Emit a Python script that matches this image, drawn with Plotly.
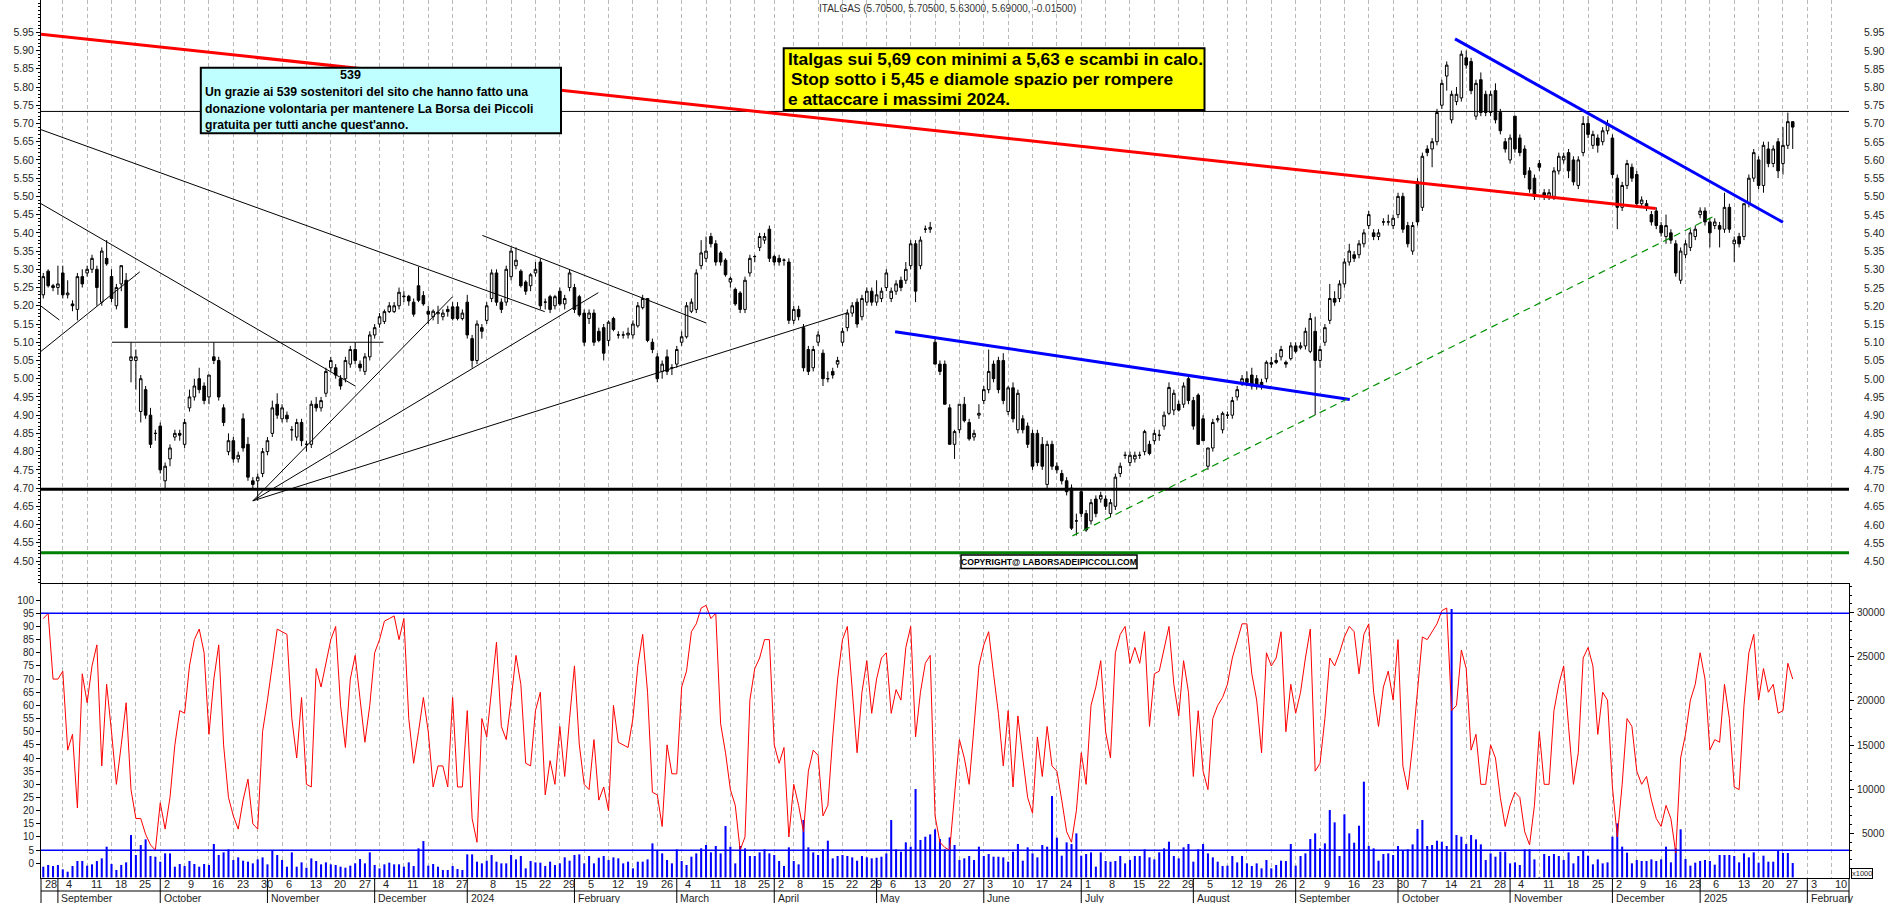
import numpy as np
import pandas as pd
import plotly.graph_objects as go

# ---------------- values ----------------
OPEN = [
    5.23, 5.295, 5.255, 5.25, 5.29, 5.23, 5.205, 5.19, 5.28, 5.29,
    5.30, 5.30, 5.21, 5.33, 5.28, 5.20, 5.26, 5.27, 5.05, 5.05,
    4.91, 4.97, 4.90, 4.85, 4.87, 4.72, 4.78, 4.84, 4.85, 4.82,
    4.92, 4.95, 5.00, 4.98, 4.95, 5.06, 5.05, 4.92, 4.80, 4.83,
    4.78, 4.89, 4.82, 4.72, 4.72, 4.74, 4.80, 4.85, 4.93, 4.89,
    4.90, 4.86, 4.84, 4.88, 4.82, 4.82, 4.93, 4.92, 4.96, 5.03,
    5.03, 5.00, 5.00, 5.04, 5.08, 5.04, 5.02, 5.06, 5.12, 5.15,
    5.157, 5.184, 5.184, 5.20, 5.225, 5.226, 5.21, 5.255, 5.228, 5.185,
    5.17, 5.178, 5.17, 5.19, 5.197, 5.197, 5.165, 5.21, 5.11, 5.05,
    5.14, 5.16, 5.22, 5.29, 5.21, 5.21, 5.28, 5.31, 5.295, 5.265,
    5.255, 5.29, 5.32, 5.21, 5.225, 5.20, 5.24, 5.205, 5.25, 5.25,
    5.225, 5.18, 5.165, 5.18, 5.13, 5.14, 5.105, 5.165, 5.12, 5.12,
    5.12, 5.12, 5.145, 5.195, 5.22, 5.10, 5.06, 5.02, 5.06, 5.03,
    5.04, 5.10, 5.115, 5.185, 5.19, 5.31, 5.33,
    5.39, 5.37, 5.345, 5.325, 5.265, 5.245, 5.235, 5.19, 5.29, 5.335,
    5.36, 5.38, 5.41, 5.335, 5.33, 5.325, 5.32, 5.16, 5.19, 5.14,
    5.08, 5.03, 5.10, 5.07, 5.00, 5.02, 5.04, 5.10, 5.14, 5.18,
    5.21, 5.17, 5.21, 5.24, 5.21, 5.22, 5.25, 5.22, 5.24, 5.27,
    5.27, 5.31, 5.37, 5.31, 5.41, 5.41, 5.10, 5.04, 5.04, 4.92,
    4.82, 4.86, 4.93, 4.88, 4.84, 4.90, 4.94, 4.97, 5.04, 5.05,
    5.05, 4.91, 4.975, 4.86, 4.89, 4.87, 4.85, 4.85, 4.82, 4.71,
    4.82, 4.76, 4.74, 4.72, 4.70, 4.61, 4.69, 4.63, 4.61, 4.67,
    4.67, 4.67, 4.63, 4.65, 4.74, 4.79, 4.77, 4.78, 4.79, 4.80,
    4.82, 4.83, 4.845, 4.87, 4.905, 4.914, 4.93, 4.93, 5.00, 4.94,
    4.955, 4.89, 4.76, 4.81, 4.887, 4.86, 4.90, 4.90, 4.95, 4.99,
    5.00, 5.01, 5.00, 4.99, 5.00, 5.044, 5.05, 5.06, 5.045, 5.055, 5.09, 5.085,
    5.09, 5.075, 5.13, 5.05, 5.10, 5.16, 5.22, 5.22, 5.26, 5.32,
    5.34, 5.34, 5.37, 5.42, 5.40, 5.39, 5.43, 5.43, 5.42, 5.45,
    5.50, 5.42, 5.35, 5.54, 5.47, 5.63, 5.63, 5.65, 5.75, 5.83,
    5.71, 5.76, 5.77, 5.88, 5.87, 5.72, 5.82, 5.78, 5.73, 5.79,
    5.73, 5.65, 5.60, 5.72, 5.66, 5.63, 5.57, 5.55, 5.59, 5.51,
    5.50, 5.50, 5.57, 5.60, 5.62, 5.60, 5.53, 5.62, 5.70, 5.64,
    5.66, 5.65, 5.68, 5.66, 5.55, 5.47, 5.53, 5.58, 5.56, 5.48,
    5.48, 5.45, 5.46, 5.42, 5.39, 5.40, 5.37, 5.27, 5.34, 5.36,
    5.39, 5.45, 5.46, 5.43, 5.42, 5.42, 5.41, 5.47, 5.37, 5.39,
    5.39, 5.48, 5.55, 5.60, 5.53, 5.63, 5.59, 5.65, 5.59, 5.64, 5.705,
]
HIGH = [
    5.29, 5.30, 5.26, 5.31, 5.31, 5.27, 5.215, 5.29, 5.30, 5.31,
    5.34, 5.31, 5.36, 5.38, 5.30, 5.26, 5.31, 5.29, 5.10, 5.08,
    5.01, 4.98, 4.92, 4.86, 4.88, 4.77, 4.82, 4.86, 4.86, 4.89,
    4.97, 5.00, 5.03, 4.99, 5.01, 5.10, 5.06, 4.93, 4.85, 4.84,
    4.80, 4.905, 4.84, 4.73, 4.74, 4.81, 4.84, 4.94, 4.96, 4.93,
    4.91, 4.87, 4.89, 4.89, 4.83, 4.94, 4.95, 4.95, 5.03, 5.06,
    5.04, 5.01, 5.06, 5.09, 5.10, 5.05, 5.07, 5.13, 5.15, 5.18,
    5.19, 5.21, 5.21, 5.25, 5.24, 5.23, 5.22, 5.307, 5.24, 5.20,
    5.19, 5.20, 5.19, 5.20, 5.21, 5.21, 5.19, 5.23, 5.12, 5.16,
    5.15, 5.21, 5.30, 5.30, 5.22, 5.31, 5.36, 5.36, 5.30, 5.27,
    5.29, 5.32, 5.33, 5.22, 5.23, 5.23, 5.25, 5.23, 5.30, 5.26,
    5.23, 5.19, 5.19, 5.19, 5.14, 5.15, 5.16, 5.17, 5.13, 5.13,
    5.14, 5.16, 5.21, 5.23, 5.22, 5.11, 5.07, 5.05, 5.08, 5.04,
    5.09, 5.13, 5.21, 5.22, 5.30, 5.38, 5.39,
    5.40, 5.38, 5.35, 5.33, 5.28, 5.25, 5.24, 5.28, 5.34, 5.34,
    5.40, 5.40, 5.42, 5.34, 5.34, 5.33, 5.33, 5.20, 5.20, 5.15,
    5.09, 5.09, 5.13, 5.08, 5.02, 5.03, 5.06, 5.14, 5.19, 5.21,
    5.22, 5.23, 5.25, 5.25, 5.27, 5.25, 5.30, 5.25, 5.27, 5.28,
    5.32, 5.38, 5.38, 5.39, 5.42, 5.43, 5.11, 5.05, 5.05, 4.93,
    4.86, 4.93, 4.95, 4.89, 4.86, 4.93, 4.98, 5.08, 5.05, 5.06,
    5.07, 4.98, 4.99, 4.97, 4.90, 4.88, 4.86, 4.86, 4.84, 4.83,
    4.83, 4.77, 4.75, 4.73, 4.71, 4.63, 4.70, 4.64, 4.67, 4.68,
    4.69, 4.68, 4.67, 4.74, 4.77, 4.80, 4.80, 4.80, 4.80, 4.86,
    4.83, 4.86, 4.86, 4.91, 4.99, 4.97, 4.94, 4.99, 5.01, 4.95,
    4.96, 4.90, 4.81, 4.89, 4.90, 4.91, 4.91, 4.95, 4.98, 5.01,
    5.02, 5.03, 5.01, 5.00, 5.05, 5.06, 5.07, 5.09, 5.05, 5.10, 5.10, 5.10,
    5.14, 5.18, 5.17, 5.09, 5.15, 5.26, 5.24, 5.27, 5.33, 5.37,
    5.35, 5.38, 5.41, 5.46, 5.41, 5.41, 5.44, 5.45, 5.45, 5.51,
    5.51, 5.43, 5.43, 5.55, 5.62, 5.64, 5.66, 5.74, 5.82, 5.87,
    5.79, 5.80, 5.90, 5.90, 5.88, 5.82, 5.84, 5.79, 5.79, 5.81,
    5.74, 5.66, 5.67, 5.72, 5.67, 5.64, 5.58, 5.56, 5.60, 5.52,
    5.52, 5.58, 5.62, 5.62, 5.63, 5.61, 5.61, 5.72, 5.72, 5.68,
    5.67, 5.69, 5.71, 5.67, 5.56, 5.54, 5.60, 5.59, 5.57, 5.50,
    5.49, 5.46, 5.47, 5.43, 5.45, 5.41, 5.38, 5.36, 5.38, 5.41,
    5.42, 5.47, 5.47, 5.44, 5.44, 5.43, 5.51, 5.48, 5.39, 5.40,
    5.48, 5.56, 5.63, 5.61, 5.65, 5.65, 5.64, 5.66, 5.69, 5.73, 5.705,
]
LOW = [
    5.22, 5.25, 5.24, 5.23, 5.22, 5.22, 5.185, 5.16, 5.25, 5.28,
    5.29, 5.20, 5.20, 5.31, 5.21, 5.19, 5.24, 5.14, 4.99, 4.97,
    4.88, 4.89, 4.81, 4.83, 4.74, 4.695, 4.76, 4.83, 4.83, 4.81,
    4.91, 4.94, 4.96, 4.93, 4.93, 5.04, 4.94, 4.87, 4.79, 4.77,
    4.77, 4.80, 4.72, 4.70, 4.665, 4.73, 4.79, 4.84, 4.89, 4.88,
    4.88, 4.83, 4.83, 4.815, 4.80, 4.81, 4.91, 4.91, 4.95, 5.02,
    5.00, 4.97, 4.99, 5.03, 5.04, 5.02, 5.01, 5.05, 5.11, 5.14,
    5.15, 5.18, 5.18, 5.19, 5.21, 5.20, 5.17, 5.21, 5.20, 5.15,
    5.16, 5.15, 5.16, 5.17, 5.16, 5.16, 5.16, 5.11, 5.03, 5.04,
    5.11, 5.15, 5.21, 5.20, 5.18, 5.20, 5.27, 5.30, 5.25, 5.23,
    5.24, 5.28, 5.19, 5.19, 5.18, 5.19, 5.20, 5.19, 5.24, 5.18,
    5.17, 5.09, 5.15, 5.09, 5.10, 5.05, 5.09, 5.13, 5.11, 5.11,
    5.11, 5.11, 5.14, 5.19, 5.10, 5.07, 4.99, 5.00, 5.01, 5.01,
    5.03, 5.09, 5.11, 5.18, 5.18, 5.30, 5.32,
    5.36, 5.31, 5.31, 5.28, 5.25, 5.20, 5.18, 5.18, 5.28, 5.32,
    5.35, 5.37, 5.32, 5.31, 5.31, 5.31, 5.15, 5.15, 5.16, 5.02,
    5.01, 5.02, 5.09, 4.98, 4.99, 5.00, 5.03, 5.09, 5.13, 5.17,
    5.14, 5.16, 5.20, 5.20, 5.20, 5.21, 5.24, 5.21, 5.23, 5.24,
    5.26, 5.30, 5.21, 5.30, 5.40, 5.40, 5.04, 5.01, 4.93, 4.82,
    4.78, 4.85, 4.88, 4.83, 4.83, 4.89, 4.93, 4.96, 4.99, 4.96,
    4.93, 4.90, 4.88, 4.85, 4.85, 4.81, 4.75, 4.76, 4.75, 4.70,
    4.75, 4.74, 4.71, 4.68, 4.585, 4.57, 4.62, 4.58, 4.60, 4.62,
    4.66, 4.64, 4.62, 4.64, 4.73, 4.78, 4.76, 4.77, 4.78, 4.79,
    4.79, 4.82, 4.83, 4.86, 4.90, 4.90, 4.91, 4.92, 4.93, 4.86,
    4.82, 4.83, 4.75, 4.80, 4.88, 4.85, 4.89, 4.89, 4.94, 4.98,
    4.98, 4.97, 4.97, 4.97, 4.99, 5.03, 5.04, 5.05, 5.03, 5.05, 5.07, 5.08,
    5.08, 5.07, 4.90, 5.03, 5.09, 5.15, 5.20, 5.21, 5.25, 5.31,
    5.32, 5.33, 5.36, 5.41, 5.38, 5.38, 5.42, 5.42, 5.41, 5.44,
    5.40, 5.36, 5.34, 5.42, 5.46, 5.61, 5.58, 5.64, 5.74, 5.79,
    5.70, 5.75, 5.76, 5.85, 5.78, 5.71, 5.72, 5.72, 5.72, 5.70,
    5.67, 5.62, 5.59, 5.62, 5.61, 5.55, 5.51, 5.49, 5.57, 5.49,
    5.49, 5.49, 5.56, 5.59, 5.55, 5.53, 5.52, 5.61, 5.66, 5.63,
    5.62, 5.64, 5.67, 5.55, 5.41, 5.46, 5.52, 5.54, 5.47, 5.47,
    5.46, 5.42, 5.41, 5.39, 5.37, 5.37, 5.28, 5.26, 5.33, 5.35,
    5.38, 5.44, 5.42, 5.36, 5.41, 5.36, 5.40, 5.40, 5.32, 5.36,
    5.38, 5.47, 5.54, 5.52, 5.51, 5.58, 5.58, 5.55, 5.56, 5.63, 5.63,
]
CLOSE = [
    5.28, 5.255, 5.25, 5.26, 5.23, 5.235, 5.20, 5.28, 5.26, 5.30,
    5.33, 5.25, 5.35, 5.315, 5.22, 5.25, 5.31, 5.14, 5.06, 5.06,
    5.00, 4.90, 4.82, 4.85, 4.75, 4.76, 4.81, 4.85, 4.845, 4.88,
    4.95, 4.98, 4.97, 4.94, 5.01, 5.05, 4.95, 4.88, 4.83, 4.78,
    4.79, 4.81, 4.73, 4.71, 4.73, 4.80, 4.83, 4.92, 4.90, 4.92,
    4.89, 4.86, 4.88, 4.83, 4.82, 4.93, 4.92, 4.94, 5.02, 5.05,
    5.01, 4.98, 5.05, 5.08, 5.05, 5.03, 5.06, 5.12, 5.14, 5.17,
    5.184, 5.20, 5.20, 5.237, 5.226, 5.213, 5.177, 5.215, 5.205, 5.177,
    5.185, 5.182, 5.18, 5.184, 5.165, 5.165, 5.18, 5.12, 5.05, 5.15,
    5.13, 5.20, 5.29, 5.21, 5.19, 5.30, 5.35, 5.325, 5.255, 5.24,
    5.285, 5.30, 5.20, 5.21, 5.19, 5.225, 5.205, 5.22, 5.29, 5.19,
    5.175, 5.10, 5.18, 5.10, 5.105, 5.07, 5.155, 5.135, 5.12, 5.12,
    5.125, 5.15, 5.20, 5.22, 5.105, 5.08, 5.00, 5.04, 5.02, 5.03,
    5.08, 5.115, 5.20, 5.21, 5.29, 5.345, 5.35,
    5.37, 5.32, 5.32, 5.285, 5.275, 5.205, 5.19, 5.27, 5.33, 5.335,
    5.39, 5.39, 5.33, 5.32, 5.32, 5.325, 5.16, 5.19, 5.17, 5.03,
    5.02, 5.08, 5.12, 5.00, 5.00, 5.01, 5.05, 5.13, 5.18, 5.20,
    5.15, 5.22, 5.24, 5.21, 5.23, 5.24, 5.29, 5.24, 5.26, 5.25,
    5.30, 5.37, 5.24, 5.38, 5.41, 5.415, 5.04, 5.02, 4.93, 4.82,
    4.855, 4.93, 4.885, 4.835, 4.85, 4.905, 4.97, 5.02, 5.00, 4.97,
    4.94, 4.975, 4.89, 4.96, 4.86, 4.82, 4.76, 4.77, 4.76, 4.82,
    4.76, 4.75, 4.72, 4.69, 4.59, 4.61, 4.63, 4.585, 4.66, 4.63,
    4.68, 4.65, 4.66, 4.73, 4.76, 4.79, 4.79, 4.79, 4.79, 4.855,
    4.795, 4.85, 4.845, 4.90, 4.976, 4.96, 4.914, 4.98, 4.94, 4.87,
    4.82, 4.83, 4.81, 4.88, 4.89, 4.905, 4.90, 4.94, 4.97, 5.00,
    4.99, 4.98, 4.98, 4.98, 5.045, 5.04, 5.045, 5.08, 5.04, 5.09, 5.075, 5.09,
    5.13, 5.165, 5.05, 5.08, 5.14, 5.22, 5.21, 5.26, 5.32, 5.35,
    5.33, 5.37, 5.40, 5.45, 5.39, 5.40, 5.43, 5.43, 5.44, 5.50,
    5.41, 5.37, 5.42, 5.43, 5.61, 5.62, 5.65, 5.73, 5.81, 5.86,
    5.78, 5.78, 5.89, 5.86, 5.79, 5.81, 5.73, 5.73, 5.78, 5.71,
    5.68, 5.63, 5.66, 5.63, 5.62, 5.56, 5.52, 5.50, 5.58, 5.50,
    5.51, 5.57, 5.61, 5.61, 5.57, 5.54, 5.60, 5.70, 5.67, 5.67,
    5.64, 5.68, 5.70, 5.56, 5.47, 5.53, 5.59, 5.55, 5.48, 5.49,
    5.47, 5.43, 5.42, 5.40, 5.42, 5.38, 5.29, 5.35, 5.37, 5.40,
    5.41, 5.46, 5.43, 5.40, 5.43, 5.41, 5.47, 5.41, 5.38, 5.37,
    5.48, 5.55, 5.62, 5.53, 5.64, 5.59, 5.63, 5.57, 5.64, 5.705, 5.69,
]
STOCH = [
    93, 95, 70, 70, 73, 43, 49, 21, 72, 61,
    75, 83, 37, 68, 50, 30, 45, 61, 28, 17,
    17, 11, 7, 5, 23, 13, 25, 45, 58, 57,
    75, 85, 89, 80, 49, 70, 83, 45, 25, 18,
    13, 24, 32, 15, 13, 50, 62, 75, 89, 88,
    87, 55, 40, 63, 30, 29, 74, 67, 76, 85,
    90, 60, 44, 70, 79, 62, 46, 60, 80, 85,
    92, 93, 94, 85, 93, 55, 38, 50, 63, 50,
    29, 37, 37, 29, 63, 29, 29, 58, 17, 8,
    55, 48, 65, 84, 52, 47, 62, 79, 68, 38,
    37, 58, 65, 26, 39, 30, 52, 33, 55, 75,
    45, 30, 28, 47, 24, 29, 20, 60, 46, 45,
    44, 55, 75, 87, 65, 27, 26, 14, 45, 34,
    34, 67, 73, 88, 91, 97, 98,
    93, 95, 53, 42, 28, 22, 5, 10, 62, 74,
    78, 85, 85, 45, 38, 44, 10, 30, 22, 12,
    35, 43, 41, 18, 22, 48, 70, 85, 90, 65,
    42, 65, 77, 57, 70, 78, 80, 57, 66, 62,
    82, 90, 48, 65, 76, 79, 18, 8, 6, 5,
    25, 47, 40, 30, 52, 75, 83, 88, 72, 57,
    37, 58, 29, 56, 40, 25, 19, 48, 33, 52,
    37, 35, 24, 12, 8, 20, 42, 30, 60, 67,
    77, 50, 40, 80, 87, 90, 76, 82, 76, 88,
    52, 72, 73, 82, 90, 68, 56, 77, 65, 33,
    58, 35, 28, 55, 60, 63, 68, 78, 85, 91,
    91, 72, 62, 42, 80, 75, 78, 88, 50, 68, 57, 65,
    78, 89, 35, 38, 55, 78, 75, 80, 86, 90,
    88, 72, 87, 91, 65, 52, 67, 73, 62, 85,
    37, 28, 45, 65, 86, 85, 88, 91, 96, 97,
    58, 60, 81, 74, 43, 49, 30, 30, 45, 40,
    25, 14, 22, 27, 25, 12, 7, 22, 50, 30,
    30, 58, 68, 75, 52, 30, 42, 78, 82, 75,
    49, 65, 62, 29, 10, 30, 55, 52, 35, 30,
    33, 24, 17, 14, 22, 17, 4, 40, 49, 62,
    68, 80, 70, 43, 47, 46, 68, 55, 29, 28,
    60, 80, 87, 62, 74, 65, 68, 57, 58, 76, 70,
]
VOLUME = [
    1214, 1403, 1290, 1403, 912, 648, 1290, 1856, 1856, 1327,
    1478, 1856, 2158, 3480, 1516, 836, 1403, 1705, 4802, 2536,
    3670, 4311, 2423, 2347, 1780, 2725, 2725, 1214, 1516, 1290,
    1856, 1516, 1214, 1516, 1403, 3783, 2536, 2838, 3178, 1969,
    2271, 1894, 1780, 1592, 2045, 2271, 1478, 3027, 2536, 1969,
    1214, 2838, 1214, 1705, 1101, 2158, 1856, 1478, 1705, 1478,
    1403, 1214, 1101, 1327, 1592, 2083, 1592, 2838, 1403, 1025,
    1478, 1667, 1478, 1478, 1214, 1705, 1290, 3292, 4121, 1327,
    1516, 1214, 836, 836, 1290, 949, 836, 2611, 2611, 1780,
    1592, 1894, 2536, 1780, 1592, 1592, 2536, 2045, 2423, 1025,
    1856, 1705, 1667, 1290, 1780, 1403, 1592, 2271, 1894, 2536,
    2611, 1592, 2423, 1592, 2233, 2423, 1969, 2271, 2158, 1592,
    1780, 1025, 1780, 1780, 2045, 3858, 3027, 2725, 1969, 1592,
    3178, 1856, 1403, 2347, 2725, 3292, 3670,
    2838, 3556, 2725, 5822, 3480, 1592, 3556, 3292, 2423, 2423,
    2838, 3178, 2725, 2536, 1856, 1290, 3405, 1856, 1478, 6502,
    3405, 2838, 2536, 3178, 4160, 2158, 2423, 2536, 2423, 2271,
    1894, 2423, 2271, 2158, 2233, 2347, 2725, 6502, 3178, 2914,
    3972, 3480, 10015, 4236, 4613, 4878, 5444, 4349, 3178, 4538,
    3670, 1969, 2158, 2423, 1969, 3480, 2423, 2649, 2347, 2347,
    2271, 1780, 2914, 3783, 1894, 3405, 2725, 2271, 3670, 3480,
    9221, 4500, 2460, 3972, 3783, 4991, 2460, 2649, 2838, 1214,
    2838, 1856, 1780, 1856, 2423, 1592, 1969, 2423, 2423, 3178,
    2271, 2045, 2838, 3292, 4047, 2423, 2158, 3405, 3783, 1780,
    3178, 3783, 2725, 2271, 1780, 1290, 1327, 2423, 1705, 2423,
    1592, 1290, 1592, 1025, 1969, 1025, 1403, 1894, 1856, 3783, 1327, 2423,
    2725, 4349, 4991, 3292, 3858, 7635, 6238, 2423, 7144, 4991,
    3934, 5860, 10845, 3556, 3292, 1894, 2649, 2725, 2536, 3556,
    3027, 3178, 3745, 5482, 6502, 3556, 3670, 4160, 4047, 3556,
    30410, 4802, 4613, 3783, 4802, 4311, 3745, 1969, 2725, 2347,
    2914, 2914, 1592, 1705, 1403, 3178, 3178, 2045, 60, 2649,
    2423, 2649, 2423, 1969, 2838, 1592, 2423, 3027, 2460, 1478,
    2045, 1592, 1705, 4615, 6125, 3483, 2803, 1593, 1971, 1858,
    1858, 2047, 1858, 2047, 3483, 1706, 3300, 5450, 2084, 1329,
    1669, 1858, 1971, 1858, 1443, 2538, 2538, 2538, 2424, 1706,
    2727, 2273, 2840, 1669, 2462, 1782, 1782, 2991, 2765, 2765, 1631,
]

HOLIDAYS = ["2023-12-25", "2023-12-26", "2024-01-01", "2024-03-29", "2024-04-01",
            "2024-05-01", "2024-08-15", "2024-12-24", "2024-12-25", "2024-12-26",
            "2024-12-31", "2025-01-01"]
CAL_START = "2023-08-28"     # first labelled Monday, one session before the first candle
CAL_END = "2025-02-14"
MONTH_NAMES = ["January", "February", "March", "April", "May", "June", "July",
               "August", "September", "October", "November", "December"]

TITLE = "ITALGAS (5.70500, 5.70500, 5.63000, 5.69000, -0.01500)"
NOTE_HEAD = "539"
NOTE_LINES = ["Un grazie ai 539 sostenitori del sito che hanno fatto una",
              "donazione volontaria per mantenere La Borsa dei Piccoli",
              "gratuita per tutti anche quest'anno."]
COMMENT_LINES = ["Italgas sui 5,69 con minimi a 5,63 e scambi in calo.",
                 "Stop sotto i 5,45 e diamole spazio per rompere",
                 "e attaccare i massimi 2024."]
COPYRIGHT = "COPYRIGHT@ LABORSADEIPICCOLI.COM"
VOL_UNIT = "x1000"

PRICE_TICKS = [round(4.50 + 0.05 * k, 2) for k in range(30)]
OSC_TICKS = list(range(0, 101, 5))
VOL_TICKS = [5000, 10000, 15000, 20000, 25000, 30000]

# drawn trend lines: (bar index, price) end points
RED_TREND = [(-0.47, 5.945), (330.9, 5.467)]
BLUE_TRENDS = [[(174.8, 5.129), (268.1, 4.943)],
               [(289.7, 5.932), (357.0, 5.429)]]
GREEN_DASHED = [(211.2, 4.569), (342.9, 5.446)]
BLACK_TRENDS = [[(-0.47, 5.683), (102.9, 5.184)],
                [(90.1, 5.393), (136.0, 5.153)],
                [(-0.47, 5.480), (64.0, 4.980)],
                [(-0.47, 5.075), (19.8, 5.293)],
                [(-0.47, 5.199), (3.3, 5.161)],
                [(14.1, 5.100), (69.8, 5.100)],
                [(43.0, 4.665), (84.0, 5.225)],
                [(43.0, 4.665), (113.9, 5.236)],
                [(43.0, 4.665), (165.1, 5.181)]]
THIN_LEVEL = 5.733
SUPPORT_LEVEL = 4.6965
GREEN_LEVEL = 4.523
OSC_LEVELS = [95, 5]

X_RANGE = [-0.47, 370.55]
PRICE_RANGE = [4.4397, 6.0386]
OSC_RANGE = [-5.59, 106.51]
VOL_RANGE = [-68, 33366]

# ---------------- layout geometry helpers (pixels -> paper) ----------------
W, H = 1890, 903
ML, MR, MT, MB = 41, 41, 0, 25
PW, PH = W - ML - MR, H - MT - MB


def px(x):
    return (x - ML) / PW


def py(y):
    return 1 - (y - MT) / PH


SPLIT = py(583)
FONT = "Liberation Sans, Arial, sans-serif"
TXT = "#1e1e1e"

# ---------------- calendar of sessions ----------------
cal = pd.bdate_range(CAL_START, CAL_END)
cal = cal[~cal.isin(pd.to_datetime(HOLIDAYS))]
cal_pos = np.arange(len(cal)) - 1
n = min(len(OPEN), len(HIGH), len(LOW), len(CLOSE), len(STOCH), len(VOLUME))
bars = cal_pos[1:1 + n]

week_pos, week_lbl, seen = [], [], set()
for d, p in zip(cal, cal_pos):
    monday = (d - pd.Timedelta(days=d.weekday())).normalize()
    if monday in seen:
        continue
    seen.add(monday)
    friday = monday + pd.Timedelta(days=4)
    if friday.year != monday.year or (monday.month == 1 and monday.day == 1):
        continue
    week_pos.append(int(p))
    week_lbl.append(str(d.day))

month_pos, month_lbl = [], []
for k in range(1, len(cal)):
    if cal[k].month != cal[k - 1].month:
        month_pos.append(int(cal_pos[k]))
        month_lbl.append(str(cal[k].year) if cal[k].month == 1 else MONTH_NAMES[cal[k].month - 1])

grid_vals = [p for p in week_pos if X_RANGE[0] <= p <= X_RANGE[1]]

# ---------------- traces ----------------
fig = go.Figure()
fig.add_trace(go.Candlestick(
    x=bars, open=OPEN[:n], high=HIGH[:n], low=LOW[:n], close=CLOSE[:n],
    xaxis="x2", yaxis="y",
    increasing=dict(line=dict(color="black", width=1), fillcolor="white"),
    decreasing=dict(line=dict(color="black", width=1), fillcolor="black"),
    whiskerwidth=0, showlegend=False, hoverinfo="skip"))
fig.add_trace(go.Bar(
    x=bars, y=VOLUME[:n], xaxis="x", yaxis="y2", width=0.42,
    marker=dict(color="#0000ff", line=dict(width=0)), showlegend=False, hoverinfo="skip"))
fig.add_trace(go.Scatter(
    x=bars, y=STOCH[:n], xaxis="x", yaxis="y3", mode="lines",
    line=dict(color="#ff0000", width=1), showlegend=False, hoverinfo="skip"))

# ---------------- shapes ----------------
shapes = []


def seg(p0, p1, color, width, dash="solid", xref="x2", yref="y"):
    shapes.append(dict(type="line", xref=xref, yref=yref, x0=p0[0], y0=p0[1],
                       x1=p1[0], y1=p1[1], line=dict(color=color, width=width, dash=dash)))


def hline(yv, color, width, yref="y"):
    shapes.append(dict(type="line", xref="paper", yref=yref, x0=0, x1=1, y0=yv, y1=yv,
                       line=dict(color=color, width=width)))


hline(THIN_LEVEL, "black", 1)
hline(SUPPORT_LEVEL, "black", 3)
hline(GREEN_LEVEL, "#008000", 3)
for t in BLACK_TRENDS:
    seg(t[0], t[1], "black", 1)
seg(RED_TREND[0], RED_TREND[1], "#ff0000", 3)
for t in BLUE_TRENDS:
    seg(t[0], t[1], "#0000ff", 3)
seg(GREEN_DASHED[0], GREEN_DASHED[1], "#009000", 1.2, dash="7px,5px")
for lv in OSC_LEVELS:
    hline(lv, "#0000ff", 1.5, yref="y3")

# date strip
shapes.append(dict(type="line", xref="paper", yref="paper", x0=0, x1=1, y0=py(891), y1=py(891),
                   line=dict(color="black", width=1)))
for xp in (0, 1):
    shapes.append(dict(type="line", xref="paper", yref="paper", x0=xp, x1=xp, y0=0, y1=py(903),
                       line=dict(color="black", width=1)))
for p in month_pos:
    if X_RANGE[0] <= p <= X_RANGE[1]:
        shapes.append(dict(type="line", xref="x", yref="paper", x0=p, x1=p, y0=0, y1=py(903),
                           line=dict(color="black", width=1)))

# boxes
shapes.append(dict(type="rect", xref="paper", yref="paper", x0=px(200.8), x1=px(561),
                   y0=py(67.7), y1=py(133.3), fillcolor="#c0ffff", line=dict(color="black", width=2)))
shapes.append(dict(type="rect", xref="paper", yref="paper", x0=px(783.7), x1=px(1204.5),
                   y0=py(48.3), y1=py(110), fillcolor="#ffff00", line=dict(color="black", width=2)))
shapes.append(dict(type="rect", xref="paper", yref="paper", x0=px(961), x1=px(1137),
                   y0=py(555), y1=py(568.5), fillcolor="white", line=dict(color="black", width=1.5)))

# ---------------- annotations ----------------
ann = []


def text(x, y, s, size, xanchor="left", bold=False, color=TXT, xref="paper", yref="paper", **kw):
    ann.append(dict(x=x, y=y, xref=xref, yref=yref, text=("<b>%s</b>" % s) if bold else s,
                    showarrow=False, xanchor=xanchor, yanchor="middle",
                    font=dict(family=FONT, size=size, color=color), **kw))


text(px(947.5), py(8.5), TITLE, 10, xanchor="center", color="#333333")
text(px(350), py(75), NOTE_HEAD, 12.5, xanchor="center", bold=True, color="black")
for s, yy in zip(NOTE_LINES, [92.3, 108.6, 125.4]):
    text(px(203.3), py(yy), s, 12.2, bold=True, color="black")
for s, yy, xx in zip(COMMENT_LINES, [58.6, 78.6, 99.3], [786, 789, 786]):
    text(px(xx), py(yy), s, 17.3, bold=True, color="black")
text(px(1049), py(561.8), COPYRIGHT, 8.6, xanchor="center", bold=True, color="black")

for v in PRICE_TICKS:
    text(px(1887), v, "%.2f" % v, 10.5, xanchor="right", yref="y")
for v in VOL_TICKS:
    text(px(1887), v, str(v), 10, xanchor="right", yref="y2")
ann.append(dict(x=px(1851), y=py(873), xref="paper", yref="paper", text=VOL_UNIT, showarrow=False,
                xanchor="left", yanchor="middle", bordercolor="black", borderwidth=1, borderpad=0,
                font=dict(family=FONT, size=7.5, color=TXT)))

for p, s in zip(week_pos, week_lbl):
    if p > X_RANGE[1] - 1:
        continue
    xx = max(p, X_RANGE[0] + 0.05)
    text(xx, py(884.3), s, 11, xref="x", xshift=1.5)
for p, s in zip(month_pos, month_lbl):
    if X_RANGE[0] <= p <= X_RANGE[1]:
        text(p, py(898.3), s, 10.5, xref="x", xshift=1.5)

# ---------------- axes ----------------
grid = dict(showgrid=True, gridcolor="#b8b8b8", gridwidth=1, griddash="4px,3px")
minor_price = dict(tickmode="array", tickvals=[round(4.44 + 0.01 * k, 2) for k in range(160)],
                   ticks="outside", ticklen=2, tickcolor="black", showgrid=False)

fig.update_layout(
    width=W, height=H, margin=dict(l=ML, r=MR, t=MT, b=MB),
    paper_bgcolor="white", plot_bgcolor="white", showlegend=False, boxgap=0.25,
    hovermode=False,
    xaxis=dict(domain=[0, 1], anchor="y2", range=X_RANGE, tickmode="array", tickvals=grid_vals,
               showticklabels=False, ticks="", zeroline=False, showline=True, linecolor="black",
               linewidth=1, rangeslider=dict(visible=False), **grid),
    xaxis2=dict(domain=[0, 1], anchor="y", matches="x", range=X_RANGE, tickmode="array",
                tickvals=grid_vals, showticklabels=False, ticks="", zeroline=False, showline=True,
                linecolor="black", linewidth=1, rangeslider=dict(visible=False), **grid),
    yaxis=dict(domain=[SPLIT, 1], anchor="x2", range=PRICE_RANGE, side="left", tickmode="array",
               tickvals=PRICE_TICKS, ticktext=["%.2f" % v for v in PRICE_TICKS], ticks="outside",
               ticklen=4, tickcolor="black", showline=True, linecolor="black", linewidth=1,
               showgrid=False, zeroline=False, minor=minor_price,
               tickfont=dict(family=FONT, size=10.5, color=TXT)),
    yaxis4=dict(overlaying="y", anchor="x2", side="right", range=PRICE_RANGE, tickmode="array",
                tickvals=PRICE_TICKS, showticklabels=False, ticks="outside", ticklen=4,
                tickcolor="black", showline=True, linecolor="black", linewidth=1, showgrid=False,
                zeroline=False, minor=minor_price),
    yaxis2=dict(domain=[0, SPLIT], anchor="x", side="right", range=VOL_RANGE, tickmode="array",
                tickvals=VOL_TICKS, showticklabels=False, ticks="outside", ticklen=4,
                tickcolor="black", showline=True, linecolor="black", linewidth=1, showgrid=False,
                zeroline=False,
                minor=dict(tickmode="array", tickvals=[1000 * k for k in range(1, 34)],
                           ticks="outside", ticklen=2, tickcolor="black", showgrid=False)),
    yaxis3=dict(overlaying="y2", anchor="x", side="left", range=OSC_RANGE, tickmode="array",
                tickvals=OSC_TICKS, ticks="outside", ticklen=4, tickcolor="black", showline=True,
                linecolor="black", linewidth=1, showgrid=False, zeroline=False,
                tickfont=dict(family=FONT, size=10, color=TXT)),
    shapes=shapes,
    annotations=ann,
)

fig.write_html("out.html", config={"displayModeBar": False, "staticPlot": True},
               post_script="document.body.style.margin='0';document.body.style.overflow='hidden';")
